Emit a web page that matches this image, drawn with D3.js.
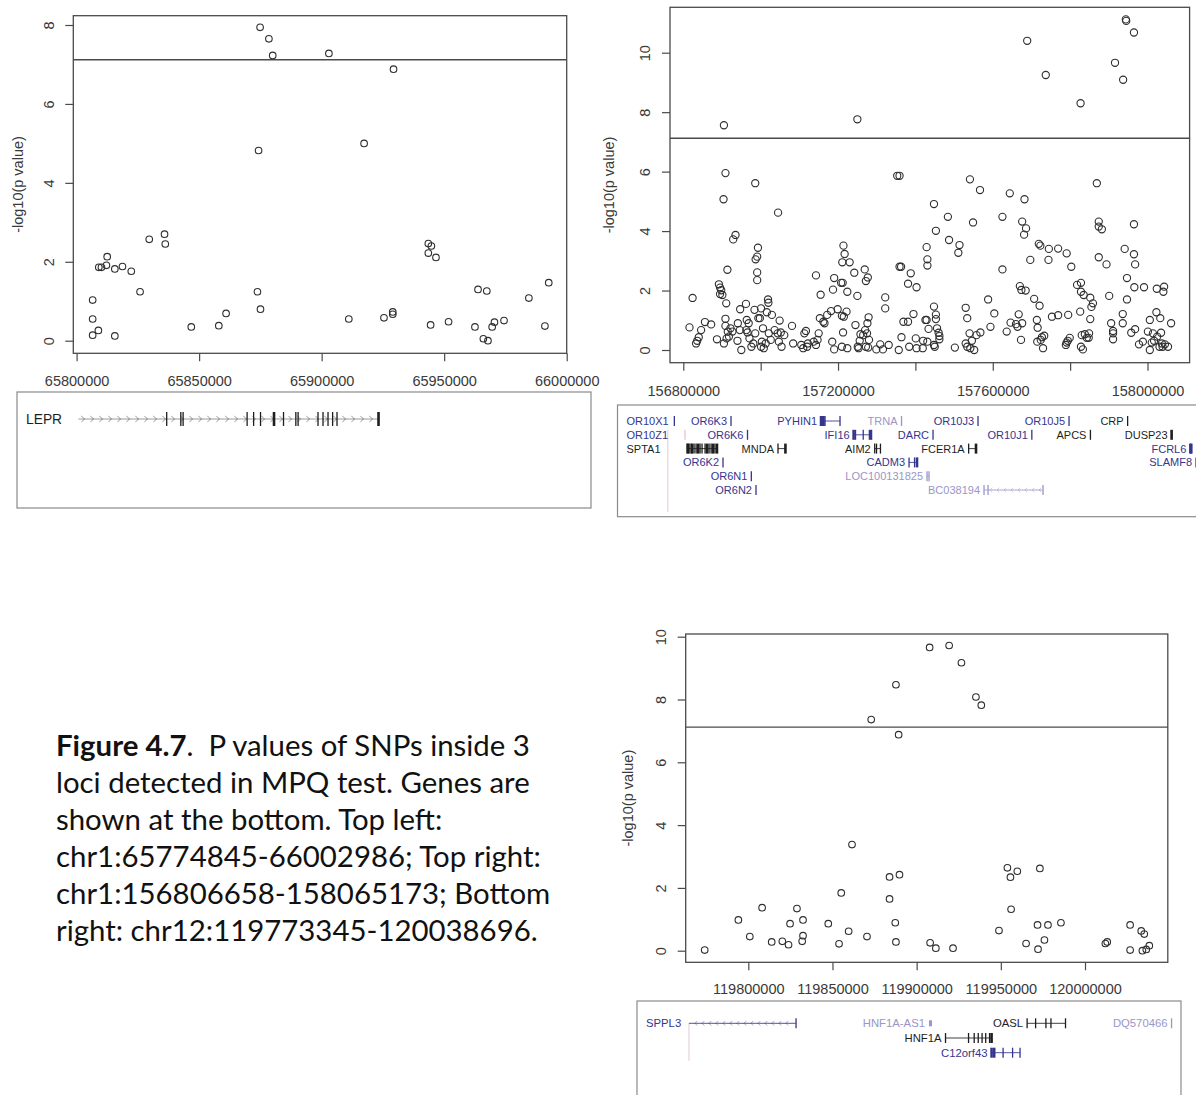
<!DOCTYPE html>
<html>
<head>
<meta charset="utf-8">
<script src="https://cdn.jsdelivr.net/npm/d3@7"></script>
<style>
  body { margin: 0; background: #fff; }
</style>
</head>
<body>
<script>
// ---- data: SNP positions (kb) and -log10(p) ----
var tlSnps = [
  [65806.55,0.14],[65806.55,0.55],[65806.55,1.03],[65808.89,0.26],[65809.05,1.86],[65810.14,1.86],
  [65812.17,1.91],[65812.48,2.13],[65815.60,1.82],[65815.60,0.12],[65818.72,1.88],[65822.31,1.76],
  [65825.90,1.24],[65829.64,2.57],[65835.88,2.70],[65836.19,2.45],[65846.80,0.35],[65858.03,0.38],
  [65861.00,0.69],[65873.79,1.24],[65874.26,4.82],[65874.88,7.94],[65875.04,0.80],[65878.47,7.65],
  [65880.03,7.23],[65902.96,7.28],[65911.08,0.55],[65917.32,5.00],[65925.43,0.58],[65929.02,0.73],
  [65929.02,0.67],[65929.33,6.88],[65943.53,2.46],[65944.77,2.40],[65943.53,2.22],[65944.46,0.40],
  [65946.65,2.11],[65951.79,0.48],[65962.56,0.35],[65963.81,1.30],[65965.99,0.05],[65967.40,1.26],
  [65967.86,0.00],[65969.58,0.35],[65970.52,0.47],[65974.42,0.51],[65984.56,1.08],[65991.11,0.37],
  [65992.67,1.47]
];

var trSnps = [
  [156905,7.56],[157250,7.76],[157689,10.40],[157737,9.25],[157827,8.30],[157916,9.66],[157937,9.09],
  [157944,11.12],[157945,11.07],[157965,10.68],
  [156909,5.95],[156904,5.07],[156935,3.87],[156929,3.72],[156914,2.70],[156986,5.61],[156993,3.44],
  [156991,3.14],[156987,3.05],[156991,2.61],[156991,2.35],[157045,4.62],[157353,5.86],[157359,5.86],
  [157359,2.80],[157363,2.80],[157448,4.91],[157453,4.01],[157484,4.48],[157487,3.70],[157514,3.53],
  [157511,3.27],[157541,5.74],[157567,5.38],[157549,4.29],[157429,3.46],[157431,3.05],[157431,2.84],
  [157388,2.58],[157381,2.23],[157403,2.11],[157214,3.51],[157217,3.23],[157211,2.95],[157230,2.95],
  [157242,2.60],[157269,2.71],[157277,2.44],[157272,2.32],[157143,2.51],[157190,2.42],[157187,2.03],
  [157208,2.26],[157212,2.26],[157224,1.96],[157250,1.82],[157155,1.86],[157625,4.48],[157644,5.27],
  [157682,5.07],[157676,4.32],[157686,4.09],[157681,3.88],[157625,2.71],[157697,3.03],[157719,3.57],
  [157723,3.51],[157745,3.40],[157744,3.03],[157769,3.41],[157791,3.25],[157803,2.80],[157869,5.61],
  [157874,4.32],[157874,4.15],[157882,4.06],[157874,3.12],[157894,2.88],[157965,4.23],[157941,3.40],
  [157965,3.22],[157968,2.88],[157947,2.42],[157966,2.11],[157991,2.11],[158024,2.06],[158043,2.13],
  [158041,1.96],[157947,1.70],[157901,1.82],[157818,2.19],[157828,2.26],[157828,1.96],[157835,1.85],
  [157852,1.76],[157859,1.57],[157855,1.45],[157826,1.29],[157852,1.04],[157670,2.15],[157674,2.02],
  [157685,2.00],[157707,1.72],[157721,1.49],[157714,1.01],[157716,0.75],[157753,1.12],[157769,1.17],
  [157795,1.18],[157588,1.70],[157604,1.23],[157530,1.42],[157534,1.07],[157594,0.78],[157568,0.59],
  [157540,0.56],
  [156816,0.76],[156824,1.75],[156833,0.22],[156836,0.31],[156846,0.67],[156840,0.43],[156856,0.94],
  [156872,0.86],[156887,0.36],[156892,2.21],[156895,2.10],[156898,2.01],[156895,1.88],[156901,1.85],
  [156911,1.57],[156909,1.05],[156909,0.81],[156915,0.62],[156912,0.39],[156918,0.45],[156905,0.22],
  [156922,0.73],[156927,0.62],[156941,0.90],[156946,0.67],[156947,1.37],[156950,0.00],[156940,0.31],
  [156962,1.55],[156963,0.67],[156966,0.59],[156964,1.01],[156969,0.90],[156971,0.39],[156976,0.11],
  [156981,0.22],[156984,1.35],[156986,0.56],[156994,1.07],[156998,1.07],[157001,1.40],[157006,0.73],
  [157001,0.11],[157008,0.06],[157003,0.28],[157013,0.22],[157016,1.27],[157019,1.70],[157020,1.59],
  [157021,0.56],[157026,0.34],[157029,1.18],[157036,0.67],[157044,0.56],[157047,0.28],[157049,0.99],
  [157052,0.59],[157054,0.11],[157061,0.50],[157081,0.81],[157084,0.22],[157105,0.17],[157110,0.06],
  [157113,0.56],[157117,0.64],[157120,0.11],[157122,0.22],[157137,0.28],[157143,0.17],[157147,0.34],
  [157153,1.07],[157150,0.56],[157162,0.95],[157165,0.90],[157172,1.18],[157182,1.31],[157185,0.28],
  [157190,0.02],[157199,1.37],[157210,0.11],[157210,1.15],[157213,0.59],[157215,1.12],[157222,1.29],
  [157224,0.06],[157245,0.84],[157251,0.11],[157253,0.06],[157256,0.31],[157258,0.53],[157265,0.50],
  [157270,0.67],[157272,0.11],[157275,0.56],[157276,0.90],[157279,1.10],[157280,0.34],[157278,0.08],
  [157299,0.02],[157309,0.19],[157316,0.02],[157331,0.17],[157322,1.40],[157322,1.77],[157357,0.00],
  [157364,0.43],[157369,0.95],[157381,0.95],[157384,0.11],[157395,1.21],[157401,0.39],[157403,0.06],
  [157419,0.06],[157420,0.31],[157426,1.01],[157429,1.01],[157431,0.28],[157434,0.71],[157448,1.46],
  [157448,0.17],[157450,0.11],[157453,1.19],[157453,1.04],[157456,0.73],[157460,0.58],[157462,0.47],
  [157462,0.36],[157502,0.08],[157530,0.22],[157534,0.11],[157542,0.06],[157552,0.00],[157546,0.31],
  [157558,0.50],[157636,0.62],[157646,0.92],[157660,0.87],[157664,0.78],[157667,1.20],[157673,0.34],
  [157676,0.90],[157715,0.28],[157724,0.34],[157727,0.43],[157730,0.06],[157733,0.48],[157789,0.17],
  [157791,0.25],[157794,0.31],[157799,0.41],[157828,0.11],[157833,0.02],[157830,0.50],[157838,0.53],
  [157843,0.41],[157848,0.41],[157849,0.56],[157906,0.90],[157911,0.64],[157911,0.56],[157911,0.36],
  [157936,0.90],[157936,1.21],[157958,0.58],[157968,0.70],[157978,0.19],[157988,0.28],[158001,0.62],
  [158006,1.01],[158006,0.00],[158011,0.25],[158014,0.56],[158017,0.31],[158023,1.27],[158025,0.45],
  [158031,0.11],[158033,1.07],[158035,0.58],[158037,0.22],[158039,0.11],[158045,0.19],[158053,0.11],
  [158061,0.90]
];

var brSnps = [
  [119774.1,0.02],[119794.1,0.98],[119800.9,0.45],[119808.2,1.37],[119813.9,0.28],[119820.2,0.30],
  [119823.9,0.19],[119824.8,0.86],[119828.9,1.34],[119832.0,0.30],[119832.5,0.48],[119832.5,0.98],
  [119847.5,0.86],[119853.9,0.22],[119855.2,1.84],[119859.6,0.62],[119861.6,3.38],[119870.5,0.45],
  [119873.0,7.36],[119883.9,1.65],[119883.9,2.35],[119887.3,0.89],[119887.7,0.28],[119887.7,8.47],
  [119889.3,6.88],[119889.8,2.42],[119907.7,9.66],[119908.0,0.25],[119911.4,0.08],[119919.3,9.72],
  [119921.6,0.08],[119926.6,9.17],[119935.2,8.08],[119938.4,7.82],[119948.9,0.64],[119953.9,2.64],
  [119955.7,2.34],[119956.1,1.32],[119959.8,2.53],[119965.0,0.23],[119971.8,0.82],[119972.1,0.05],
  [119973.2,2.62],[119975.9,0.34],[119978.0,0.82],[119985.7,0.89],[120012.1,0.23],[120013.2,0.28],
  [120026.8,0.82],[120026.8,0.02],[120033.4,0.63],[120034.1,0.00],[120035.2,0.53],[120036.4,0.04],
  [120038.2,0.16]
];

// genome-wide significance line, -log10(p)
var threshold = 7.12;

// ---- axis ticks ----
var tlXTicks = [65800000, 65850000, 65900000, 65950000, 66000000];
var tlXLabels = tlXTicks;
var trXTicks = [156800000, 157000000, 157200000, 157400000, 157600000, 157800000, 158000000];
var trXLabels = [156800000, 157200000, 157600000, 158000000];
var brXTicks = [119800000, 119850000, 119900000, 119950000, 120000000];
var brXLabels = brXTicks;
var tlYTicks = [0, 2, 4, 6, 8];
var trYTicks = [0, 2, 4, 6, 8, 10];
var brYTicks = [0, 2, 4, 6, 8, 10];

// ---- genes (kb). kind: ref = black, known = blue, other = pale ----
var tlWindow = [65774.845, 66002.986];
var tlGenes = [
  {name: "LEPR", kind: "ref", row: 0, start: 65798.02, end: 65918.95, strand: ">",
   exons: [65833.57, 65839.26, 65840.19, 65865.99, 65868.61, 65871.39, 65876.83, 65880.66, 65885.62,
           65886.54, 65894.56, 65896.58, 65898.60, 65900.45, 65902.22, 65918.95],
   thick: [65876.83, 65918.95]}
];

var trWindow = [156806.658, 158065.173];
var trGenes = [
  {name: "OR10X1", kind: "known", row: 0, start: 156921.6, end: 156921.6, exons: [156921.6]},
  {name: "OR6K3", kind: "known", row: 0, start: 157046.1, end: 157046.1, exons: [157046.1]},
  {name: "PYHIN1", kind: "known", row: 0, start: 157243.8, end: 157285.5,
   exons: [157243.8, 157246.0, 157248.2, 157250.4, 157252.6, 157285.5], thick: [157243.8, 157248.2]},
  {name: "TRNA", kind: "other", row: 0, start: 157420.6, end: 157420.6, exons: [157420.6]},
  {name: "OR10J3", kind: "known", row: 0, start: 157588.6, end: 157588.6, exons: [157588.6]},
  {name: "OR10J5", kind: "known", row: 0, start: 157788.5, end: 157788.5, exons: [157788.5]},
  {name: "CRP", kind: "ref", row: 0, start: 157917.2, end: 157917.2, exons: [157917.2]},
  {name: "OR10Z1", kind: "known", row: 1, start: 156945.1, end: 156945.1, exons: [156945.1], paleGlyph: true},
  {name: "OR6K6", kind: "known", row: 1, start: 157082.3, end: 157082.3, exons: [157082.3]},
  {name: "IFI16", kind: "known", row: 1, start: 157315.4, end: 157354.9,
   exons: [157315.4, 157319.6, 157336.5, 157351.4, 157354.9], thick: [157315.4, 157351.4]},
  {name: "DARC", kind: "known", row: 1, start: 157489.8, end: 157489.8, exons: [157489.8]},
  {name: "OR10J1", kind: "known", row: 1, start: 157706.8, end: 157706.8, exons: [157706.8]},
  {name: "APCS", kind: "ref", row: 1, start: 157835.5, end: 157835.5, exons: [157835.5]},
  {name: "DUSP23", kind: "ref", row: 1, start: 158013.8, end: 158013.8, exons: [158013.8], thick: [158013.8]},
  {name: "SPTA1", kind: "ref", row: 2, start: 156949.5, end: 157016.7,
   exons: [156949.5, 156951.7, 156953.9, 156958.3, 156960.5, 156964.9, 156969.3, 156973.7, 156978.1,
           156982.5, 156989.1, 156993.5, 156997.9, 157002.3, 157006.7, 157011.1, 157014.5, 157016.7],
   thick: [156951.7, 156960.5, 156973.7, 156993.5, 157006.7]},
  {name: "MNDA", kind: "ref", row: 2, start: 157149.3, end: 157165.6, exons: [157149.3, 157165.6], thick: [157165.6]},
  {name: "AIM2", kind: "ref", row: 2, start: 157361.7, end: 157374.3, exons: [157361.7, 157365.7, 157374.3]},
  {name: "FCER1A", kind: "ref", row: 2, start: 157568.0, end: 157584.2, exons: [157568.0, 157584.2], thick: [157584.2]},
  {name: "FCRL6", kind: "known", row: 2, start: 158055.0, end: 158057.0, exons: [158055.0, 158057.0], thick: [158055.0, 158057.0]},
  {name: "OR6K2", kind: "known", row: 3, start: 157028.5, end: 157028.5, exons: [157028.5]},
  {name: "CADM3", kind: "known", row: 3, start: 157437.1, end: 157454.6, exons: [157437.1, 157449.2, 157454.6], thick: [157454.6]},
  {name: "SLAMF8", kind: "known", row: 3, start: 158067.4, end: 158072.0, exons: [158067.4]},
  {name: "OR6N1", kind: "known", row: 4, start: 157090.7, end: 157090.7, exons: [157090.7]},
  {name: "LOC100131825", kind: "other", row: 4, start: 157476.6, end: 157481.0, exons: [157476.6, 157481.0]},
  {name: "OR6N2", kind: "known", row: 5, start: 157101.0, end: 157101.0, exons: [157101.0]},
  {name: "BC038194", kind: "other", row: 5, start: 157601.8, end: 157731.4, strand: "<",
   exons: [157601.8, 157610.6, 157731.4]}
];
var trGuides = [156907.3];

var brWindow = [119773.345, 120038.696];
var brGenes = [
  {name: "SPPL3", kind: "known", row: 0, start: 119797.1, end: 119850.1, strand: "<", exons: [119850.1]},
  {name: "HNF1A-AS1", kind: "other", row: 0, start: 119915.9, end: 119917.4, block: true},
  {name: "OASL", kind: "ref", row: 0, start: 119964.5, end: 119983.5,
   exons: [119964.5, 119968.7, 119973.8, 119976.3, 119983.5]},
  {name: "DQ570466", kind: "other", row: 0, start: 120036.0, end: 120036.0, exons: [120036.0]},
  {name: "HNF1A", kind: "ref", row: 1, start: 119924.1, end: 119946.9,
   exons: [119924.1, 119935.5, 119938.3, 119940.3, 119942.2, 119944.0, 119945.9, 119946.9], thick: [119946.9]},
  {name: "C12orf43", kind: "known", row: 2, start: 119946.9, end: 119961.0,
   exons: [119946.9, 119948.2, 119952.6, 119957.3, 119961.0], thick: [119946.9, 119948.2]}
];
var brGuides = [119797.1];

var captionLines = [
  [["Figure 4.7", true], [".\u00a0 P values of SNPs inside 3", false]],
  [["loci detected in MPQ test. Genes are", false]],
  [["shown at the bottom. Top left:", false]],
  [["chr1:65774845-66002986; Top right:", false]],
  [["chr1:156806658-158065173; Bottom", false]],
  [["right: chr12:119773345-120038696.", false]]
];

// ---- drawing ----
var W = 1196, H = 1095;
var axisCol = "#4a4a4a", textCol = "#3a3a3a", dotCol = "#2e2e2e";
var kindCol = {ref: "#1e1e1e", known: "#35358e", other: "#9a96c8"};
var axisFont = "'Liberation Sans', Arial, Helvetica, sans-serif";

var svg = d3.select("body").append("svg")
    .attr("width", W)
    .attr("height", H)
    .style("display", "block");

svg.append("rect").attr("width", W).attr("height", H).attr("fill", "#fff");

function scatter(p) {
    var x = d3.scaleLinear().domain(d3.extent(p.xTicks)).range(p.xr);
    var y = d3.scaleLinear().domain(p.yDom).range(p.yr);
    var b = p.box;
    var g = svg.append("g");

    g.append("rect")
        .attr("x", b[0]).attr("y", b[1])
        .attr("width", b[2] - b[0]).attr("height", b[3] - b[1])
        .attr("fill", "none")
        .attr("stroke", axisCol)
        .attr("stroke-width", 1.3);

    var xAxis = d3.axisBottom(x)
        .tickValues(p.xTicks)
        .tickSize(8)
        .tickPadding(p.xPad)
        .tickFormat(d => p.xLabels.indexOf(d) >= 0 ? d3.format("d")(d) : "");
    var gx = g.append("g")
        .attr("transform", "translate(0," + b[3] + ")")
        .call(xAxis);
    gx.select(".domain").remove();

    var yAxis = d3.axisLeft(y)
        .tickValues(p.yTicks)
        .tickSize(8);
    var gy = g.append("g")
        .attr("transform", "translate(" + b[0] + ",0)")
        .call(yAxis);
    gy.select(".domain").remove();
    gy.selectAll(".tick text")
        .attr("x", null)
        .attr("dy", "0.36em")
        .attr("text-anchor", "middle")
        .attr("transform", "translate(-25,0) rotate(-90)");

    g.selectAll(".tick line").attr("stroke", axisCol).attr("stroke-width", 1.2);
    g.selectAll(".tick text")
        .attr("fill", textCol)
        .style("font-family", axisFont)
        .style("font-size", "14.5px");

    g.append("line")
        .attr("x1", b[0]).attr("x2", b[2])
        .attr("y1", y(threshold)).attr("y2", y(threshold))
        .attr("stroke", axisCol)
        .attr("stroke-width", 1.4);

    g.append("g").selectAll("circle")
        .data(p.snps)
        .join("circle")
        .attr("cx", d => x(d[0] * 1000))
        .attr("cy", d => y(d[1]))
        .attr("r", p.r)
        .attr("fill", "none")
        .attr("stroke", dotCol)
        .attr("stroke-width", 1.1);

    g.append("text")
        .attr("transform", "translate(" + (b[0] - p.titleOff) + "," + ((b[1] + b[3]) / 2) + ") rotate(-90)")
        .attr("dy", "0.36em")
        .attr("text-anchor", "middle")
        .attr("fill", textCol)
        .style("font-family", axisFont)
        .style("font-size", "14.5px")
        .text("-log10(p value)");
}

function track(t) {
    var b = t.box;
    var x = d3.scaleLinear().domain(t.window).range(t.range);
    var g = svg.append("g");

    g.append("rect")
        .attr("x", b[0]).attr("y", b[1])
        .attr("width", b[2] - b[0]).attr("height", b[3] - b[1])
        .attr("fill", "#fff")
        .attr("stroke", "#8a8a8a")
        .attr("stroke-width", 1.2);

    (t.guides || []).forEach(function (p) {
        g.append("line")
            .attr("x1", x(p)).attr("x2", x(p))
            .attr("y1", t.guideY[0]).attr("y2", t.guideY[1])
            .attr("stroke", "#e3c8d4")
            .attr("stroke-width", 1);
    });

    t.genes.forEach(function (d) {
        var cy = t.rowY + d.row * t.rowStep;
        var col = kindCol[d.kind];
        var xs = x(d.start), xe = x(d.end);
        var gg = g.append("g");

        if (d.block) {
            gg.append("rect")
                .attr("x", xs).attr("y", cy - t.exonH * 0.6)
                .attr("width", Math.max(2.5, xe - xs)).attr("height", t.exonH * 1.2)
                .attr("fill", col);
        } else {
            if (xe > xs) {
                gg.append("line")
                    .attr("x1", xs).attr("x2", xe)
                    .attr("y1", cy).attr("y2", cy)
                    .attr("stroke", col)
                    .attr("stroke-opacity", d.kind === "ref" && d.strand ? 0.45 : 0.85)
                    .attr("stroke-width", 1);
            }
            if (d.strand) {
                var dir = d.strand === ">" ? 1 : -1, a = t.exonH * 0.45;
                for (var cx = xs + 6; cx < xe - 4; cx += t.chevronStep) {
                    gg.append("path")
                        .attr("d", "M" + (cx - dir * a) + "," + (cy - a) + "L" + cx + "," + cy + "L" + (cx - dir * a) + "," + (cy + a))
                        .attr("fill", "none")
                        .attr("stroke", col)
                        .attr("stroke-opacity", 0.45)
                        .attr("stroke-width", 1);
                }
            }
            var thick = d.thick || [];
            gg.selectAll("line.exon")
                .data(d.exons || [])
                .join("line")
                .attr("class", "exon")
                .attr("x1", e => x(e)).attr("x2", e => x(e))
                .attr("y1", cy - t.exonH).attr("y2", cy + t.exonH)
                .attr("stroke", d.paleGlyph ? "#e0c4d2" : col)
                .attr("stroke-width", e => thick.indexOf(e) >= 0 ? 2.6 : 1.3);
        }

        var label = gg.append("text")
            .attr("y", cy)
            .attr("dy", "0.36em")
            .attr("fill", col)
            .style("font-family", axisFont)
            .style("font-size", t.font + "px")
            .text(d.name);
        if (xs - b[0] < 80) {
            label.attr("x", b[0] + 9).attr("text-anchor", "start");
        } else {
            label.attr("x", xs - 4).attr("text-anchor", "end");
        }
    });
}

scatter({snps: tlSnps, xTicks: tlXTicks, xLabels: tlXLabels, yTicks: tlYTicks, yDom: [0, 8], r: 3.3,
         box: [73.3, 15.7, 566.7, 353.3], xr: [76.6, 566.7], yr: [340.7, 25], xPad: 14, titleOff: 56});
scatter({snps: trSnps, xTicks: trXTicks, xLabels: trXLabels, yTicks: trYTicks, yDom: [0, 10], r: 3.6,
         box: [670, 7.3, 1189.6, 362.7], xr: [683.3, 1147.5], yr: [350, 52.7], xPad: 15, titleOff: 61});
scatter({snps: brSnps, xTicks: brXTicks, xLabels: brXLabels, yTicks: brYTicks, yDom: [0, 10], r: 3.3,
         box: [685.7, 634, 1167.8, 962.3], xr: [748.3, 1085], yr: [950.7, 636.7], xPad: 13, titleOff: 58});

track({genes: tlGenes, window: tlWindow, box: [17, 392, 591, 508], range: [21, 587],
       rowY: 419, rowStep: 14, font: 13.8, exonH: 7, chevronStep: 9});
track({genes: trGenes, window: trWindow, box: [617.5, 405, 1200, 516.7], range: [622, 1195],
       rowY: 421, rowStep: 13.8, font: 11, exonH: 5, chevronStep: 7,
       guides: trGuides, guideY: [430, 512]});
track({genes: brGenes, window: brWindow, box: [637, 1001, 1181, 1100], range: [641, 1177],
       rowY: 1023.3, rowStep: 14.7, font: 11.3, exonH: 5, chevronStep: 7,
       guides: brGuides, guideY: [1023, 1061]});

// ---- caption ----
var cap = svg.append("g").style("font-family", "Lato, 'Open Sans', sans-serif").attr("fill", "#111");
var capLines = cap.selectAll("text")
    .data(captionLines)
    .join("text")
    .attr("x", 56)
    .attr("y", (d, i) => 756 + i * 37)
    .style("font-size", "30px");
capLines.selectAll("tspan")
    .data(d => d)
    .join("tspan")
    .style("font-weight", d => d[1] ? "bold" : "normal")
    .text(d => d[0]);
// scale font so the second line spans like the original
var w2 = capLines.nodes()[1].getComputedTextLength();
var fs = 30 * 474 / w2;
capLines.style("font-size", fs + "px");
</script>
</body>
</html>
